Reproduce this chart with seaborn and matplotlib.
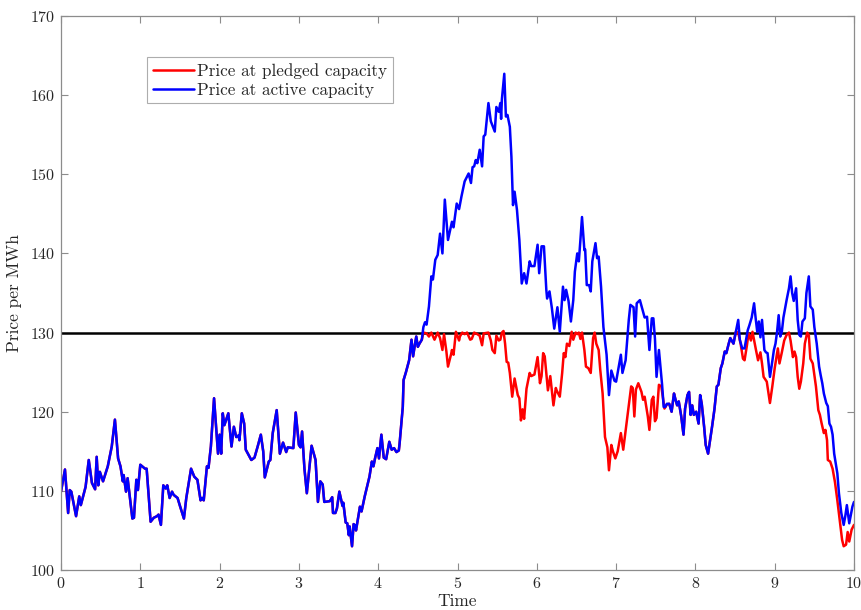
import numpy as np
import pandas as pd
import matplotlib
matplotlib.use("Agg")
import matplotlib.pyplot as plt
import seaborn as sns

# Simulated price path at active capacity
t_active = [
    0.00, 0.05, 0.09, 0.11, 0.13, 0.19, 0.23, 0.25, 0.31, 0.35, 0.39, 0.43, 0.45, 0.47, 0.49,
    0.53, 0.59, 0.64, 0.68, 0.72, 0.75, 0.78, 0.79, 0.82, 0.84, 0.90, 0.92, 0.95, 0.97, 1.00,
    1.06, 1.08, 1.13, 1.17, 1.21, 1.23, 1.26, 1.29, 1.32, 1.34, 1.37, 1.40, 1.42, 1.47, 1.50,
    1.55, 1.58, 1.64, 1.68, 1.72, 1.76, 1.78, 1.80, 1.84, 1.86, 1.89, 1.93, 1.98, 2.00, 2.02,
    2.04, 2.06, 2.11, 2.15, 2.18, 2.21, 2.24, 2.25, 2.28, 2.31, 2.33, 2.40, 2.44, 2.48, 2.52,
    2.55, 2.57, 2.62, 2.64, 2.67, 2.72, 2.76, 2.80, 2.84, 2.86, 2.93, 2.96, 3.00, 3.02, 3.04,
    3.07, 3.10, 3.16, 3.21, 3.24, 3.27, 3.30, 3.32, 3.39, 3.42, 3.43, 3.46, 3.48, 3.51, 3.55,
    3.56, 3.59, 3.61, 3.63, 3.64, 3.67, 3.69, 3.71, 3.72, 3.77, 3.79, 3.83, 3.89, 3.92, 3.94,
    3.96, 3.99, 4.01, 4.04, 4.07, 4.10, 4.14, 4.17, 4.20, 4.23, 4.26, 4.27, 4.31, 4.32, 4.35,
    4.39, 4.42, 4.44, 4.46, 4.48, 4.50, 4.52, 4.55, 4.57, 4.59, 4.61, 4.64, 4.67, 4.69, 4.72,
    4.75, 4.78, 4.81, 4.84, 4.88, 4.93, 4.95, 4.99, 5.02, 5.05, 5.09, 5.14, 5.17, 5.19, 5.21,
    5.23, 5.25, 5.28, 5.31, 5.33, 5.35, 5.39, 5.42, 5.47, 5.49, 5.52, 5.54, 5.55, 5.56, 5.59,
    5.61, 5.63, 5.66, 5.68, 5.70, 5.72, 5.75, 5.78, 5.81, 5.84, 5.87, 5.91, 5.93, 5.97, 6.01,
    6.03, 6.06, 6.09, 6.12, 6.13, 6.16, 6.19, 6.22, 6.26, 6.29, 6.33, 6.35, 6.37, 6.40, 6.43,
    6.46, 6.48, 6.51, 6.53, 6.55, 6.57, 6.60, 6.61, 6.63, 6.66, 6.68, 6.70, 6.74, 6.76, 6.78,
    6.81, 6.84, 6.88, 6.91, 6.94, 6.98, 7.00, 7.03, 7.06, 7.08, 7.12, 7.16, 7.18, 7.22, 7.24,
    7.26, 7.30, 7.33, 7.36, 7.39, 7.42, 7.45, 7.47, 7.49, 7.51, 7.54, 7.58, 7.60, 7.62, 7.64,
    7.67, 7.70, 7.73, 7.75, 7.77, 7.79, 7.82, 7.85, 7.87, 7.90, 7.92, 7.94, 7.96, 7.98, 8.01,
    8.04, 8.06, 8.08, 8.11, 8.13, 8.16, 8.19, 8.21, 8.24, 8.27, 8.29, 8.32, 8.34, 8.37, 8.39,
    8.42, 8.44, 8.48, 8.51, 8.54, 8.56, 8.59, 8.62, 8.66, 8.68, 8.71, 8.74, 8.76, 8.78, 8.80,
    8.82, 8.84, 8.87, 8.89, 8.91, 8.94, 8.96, 8.99, 9.01, 9.03, 9.05, 9.07, 9.09, 9.11, 9.15,
    9.18, 9.20, 9.22, 9.24, 9.27, 9.29, 9.31, 9.33, 9.35, 9.38, 9.40, 9.43, 9.45, 9.48, 9.50,
    9.53, 9.56, 9.58, 9.60, 9.62, 9.65, 9.67, 9.69, 9.71, 9.73, 9.75, 9.79, 9.81, 9.84, 9.87,
    9.89, 9.91, 9.94, 9.98, 10.00,
]
price_active = [
    109.9, 112.7, 107.2, 110.1, 109.9, 106.8, 109.3, 108.2, 110.5, 113.9, 111.0, 110.2, 114.3, 110.7, 112.4,
    111.2, 113.1, 115.6, 119.0, 114.1, 113.1, 111.2, 112.0, 109.9, 111.6, 106.5, 106.6, 111.4, 110.1, 113.3,
    112.8, 112.8, 106.1, 106.6, 106.8, 107.0, 105.7, 110.7, 110.3, 110.7, 109.1, 109.9, 109.5, 109.1, 108.1,
    106.5, 109.1, 112.8, 111.8, 111.4, 108.8, 109.1, 108.8, 113.1, 112.9, 115.6, 121.7, 114.7, 117.1, 114.7,
    119.8, 118.3, 119.8, 115.6, 118.1, 116.8, 117.0, 116.4, 119.8, 118.5, 115.2, 113.9, 114.2, 115.6, 117.1,
    115.0, 111.7, 113.7, 113.9, 117.3, 120.2, 114.7, 116.1, 114.9, 115.5, 115.4, 119.9, 115.8, 115.5, 117.5,
    112.8, 109.7, 115.7, 113.9, 108.6, 111.2, 110.8, 108.6, 108.7, 109.2, 107.2, 107.2, 107.8, 109.9, 108.1,
    108.5, 106.0, 105.9, 104.4, 105.5, 103.0, 105.8, 105.6, 105.0, 108.0, 107.4, 109.3, 111.8, 113.7, 113.1,
    114.1, 115.4, 114.1, 117.1, 114.2, 114.0, 116.2, 115.2, 115.4, 114.9, 115.1, 116.0, 120.6, 124.0, 125.0,
    126.5, 129.1, 127.0, 128.3, 129.5, 128.2, 128.6, 129.1, 130.7, 131.3, 131.0, 133.3, 137.1, 136.7, 139.2,
    139.8, 142.5, 140.0, 146.8, 141.7, 144.0, 143.3, 146.3, 145.6, 147.2, 149.1, 150.1, 148.9, 150.9, 151.0,
    151.8, 151.4, 153.1, 151.0, 154.8, 155.0, 159.0, 156.7, 155.4, 158.5, 157.9, 159.0, 157.0, 159.5, 162.7,
    157.3, 157.5, 156.0, 152.2, 146.1, 147.8, 145.5, 141.7, 136.2, 137.5, 136.2, 139.0, 138.4, 138.4, 141.1,
    137.5, 140.9, 140.9, 135.4, 134.3, 135.2, 133.1, 130.5, 133.2, 130.1, 135.8, 134.1, 135.4, 134.0, 131.4,
    134.1, 137.7, 140.0, 139.0, 141.7, 144.6, 140.4, 140.5, 136.0, 136.0, 135.2, 139.0, 141.3, 139.4, 139.6,
    135.8, 130.7, 127.2, 122.1, 125.2, 123.9, 123.8, 125.5, 127.2, 124.9, 126.5, 131.6, 133.5, 133.2, 129.5,
    133.7, 134.1, 133.0, 131.9, 132.0, 127.8, 131.8, 131.8, 129.2, 124.4, 127.8, 123.4, 120.6, 120.6, 121.0,
    121.0, 120.0, 122.3, 121.5, 120.8, 121.3, 119.5, 117.1, 120.4, 122.1, 122.5, 119.6, 120.8, 119.6, 120.0,
    118.5, 122.1, 121.0, 118.1, 115.8, 114.7, 116.7, 118.1, 120.3, 123.2, 123.4, 125.5, 126.1, 127.6, 127.4,
    128.6, 129.3, 128.6, 130.1, 131.6, 129.1, 128.0, 128.0, 130.3, 130.9, 131.9, 133.7, 131.8, 130.1, 131.4,
    129.4, 131.6, 127.8, 127.5, 127.4, 124.4, 125.7, 127.8, 128.6, 130.1, 132.2, 129.5, 130.1, 131.9, 134.1,
    135.6, 137.1, 135.0, 134.0, 135.6, 131.6, 129.7, 129.5, 131.4, 131.8, 135.0, 137.1, 133.3, 132.9, 130.7,
    128.6, 125.7, 124.6, 123.6, 122.3, 121.1, 120.7, 118.5, 118.1, 117.1, 114.7, 112.2, 109.7, 107.2, 105.7,
    106.8, 108.2, 105.9, 108.0, 108.6,
]

# Price at pledged capacity where it departs from the active-capacity path
t_pledged_a = [
    4.57, 4.61, 4.64, 4.67, 4.71, 4.75, 4.78, 4.81, 4.83, 4.86, 4.88, 4.92, 4.93, 4.95, 4.98,
    5.02, 5.03, 5.06, 5.09, 5.12, 5.16, 5.18, 5.21, 5.25, 5.28, 5.31, 5.33, 5.39, 5.42, 5.44,
    5.47, 5.49, 5.52, 5.54, 5.56, 5.58, 5.60, 5.62, 5.64, 5.66, 5.69, 5.72, 5.76, 5.78, 5.80,
    5.82, 5.84, 5.87, 5.91, 5.93, 5.97, 6.01, 6.04, 6.06, 6.08, 6.10, 6.14, 6.17, 6.21, 6.24,
    6.25, 6.29, 6.32, 6.34, 6.36, 6.38, 6.41, 6.44, 6.46, 6.49, 6.51, 6.53, 6.55, 6.57, 6.60,
    6.62, 6.65, 6.68, 6.71, 6.73, 6.75, 6.78, 6.80, 6.83, 6.86, 6.89, 6.91, 6.94, 6.96, 6.99,
    7.02, 7.06, 7.09, 7.13, 7.19, 7.21, 7.23, 7.25, 7.28, 7.32, 7.34, 7.36, 7.40, 7.42, 7.45,
    7.47, 7.49, 7.51, 7.54, 7.57, 7.61, 7.64, 7.67,
]
price_pledged_a = [
    130.0, 129.9, 129.5, 130.0, 129.1, 130.0, 129.3, 127.8, 129.8, 127.6, 125.7, 127.3, 127.8, 127.2, 130.1,
    129.0, 129.5, 130.0, 129.8, 130.0, 129.1, 129.2, 130.0, 129.8, 129.6, 128.4, 129.9, 130.0, 129.0, 127.8,
    127.4, 129.6, 129.0, 129.1, 130.0, 130.2, 128.6, 126.3, 126.2, 124.9, 121.9, 124.2, 122.1, 121.7, 118.9,
    120.3, 119.1, 122.9, 124.9, 124.5, 124.7, 126.9, 123.6, 124.5, 127.4, 127.0, 122.7, 124.5, 120.8, 123.0,
    122.7, 121.9, 124.9, 127.4, 126.9, 128.6, 128.3, 130.1, 129.1, 130.0, 129.8, 130.0, 129.2, 130.0, 127.8,
    125.7, 125.5, 124.9, 129.3, 130.0, 128.6, 127.8, 125.3, 122.3, 116.8, 115.5, 112.6, 115.8, 115.0, 114.1,
    115.0, 117.3, 115.2, 118.4, 123.2, 123.0, 119.4, 122.8, 123.6, 122.5, 121.5, 121.9, 119.4, 117.7, 121.5,
    121.9, 118.8, 119.2, 123.4, 123.2, 120.4, 120.9, 121.0,
]
t_pledged_b = [
    8.54, 8.57, 8.60, 8.62, 8.65, 8.67, 8.70, 8.72, 8.76, 8.79, 8.82, 8.84, 8.86, 8.90, 8.94,
    8.97, 9.00, 9.04, 9.06, 9.09, 9.12, 9.15, 9.18, 9.20, 9.23, 9.25, 9.27, 9.29, 9.31, 9.33,
    9.36, 9.38, 9.41, 9.43, 9.45, 9.48, 9.52, 9.55, 9.57, 9.59, 9.62, 9.64, 9.66, 9.67, 9.70,
    9.73, 9.76, 9.79, 9.82, 9.85, 9.87, 9.90, 9.92, 9.94, 9.97, 10.00,
]
price_pledged_b = [
    130.0, 128.6, 126.7, 126.5, 128.4, 129.9, 129.0, 130.1, 128.0, 126.5, 127.5, 126.1, 124.4, 123.8, 121.1,
    123.2, 125.5, 128.0, 126.1, 127.5, 129.0, 129.7, 130.0, 129.0, 126.9, 127.6, 126.9, 124.4, 122.9, 123.8,
    126.1, 128.6, 130.0, 129.7, 126.7, 126.1, 123.2, 120.2, 119.6, 118.6, 117.3, 117.7, 116.4, 113.9, 113.7,
    112.8, 111.1, 108.8, 106.3, 103.8, 103.0, 103.2, 104.8, 103.6, 105.1, 105.7,
]

cap_price = 130.0
x_ticks = list(range(0, 11))
y_ticks = list(range(100, 171, 10))

active = pd.DataFrame({"Time": t_active, "Price": price_active})

# The pledged-capacity path coincides with the active path below the cap
shared_1 = active[active["Time"] < 4.57]
shared_2 = active[(active["Time"] > 7.67) & (active["Time"] < 8.54)]
pledged = pd.concat([
    shared_1,
    pd.DataFrame({"Time": t_pledged_a, "Price": price_pledged_a}),
    shared_2,
    pd.DataFrame({"Time": t_pledged_b, "Price": price_pledged_b}),
], ignore_index=True)

sns.set_style("white")
plt.rcParams["font.family"] = ["cmr10", "DejaVu Serif"]
plt.rcParams["axes.formatter.use_mathtext"] = True
plt.rcParams["mathtext.fontset"] = "cm"

fig = plt.figure(figsize=(8.61, 6.10), dpi=100)
ax = fig.add_axes([61 / 861, 1 - 570 / 610, 793 / 861, 554 / 610])

sns.lineplot(data=pledged, x="Time", y="Price", color="#ff0000", linewidth=1.8,
             estimator=None, sort=False, ax=ax, label="Price at pledged capacity")
sns.lineplot(data=active, x="Time", y="Price", color="#0000ff", linewidth=1.8,
             estimator=None, sort=False, ax=ax, label="Price at active capacity")
ax.axhline(cap_price, color="black", linewidth=1.8, zorder=1)

ax.set_xlim(0, 10)
ax.set_ylim(100, 170)
ax.set_xticks(x_ticks)
ax.set_yticks(y_ticks)

spine_color = "#8c8c8c"
text_color = "#262626"
for s in ax.spines.values():
    s.set_visible(True)
    s.set_color(spine_color)
    s.set_linewidth(0.9)
ax.tick_params(direction="in", length=5, width=0.8, color=spine_color,
               labelcolor=text_color, labelsize=11.5,
               top=True, right=True, bottom=True, left=True, pad=4)

ax.set_xlabel("Time", fontsize=12.5, color=text_color, labelpad=2)
ax.set_ylabel("Price per MWh", fontsize=12.5, color=text_color, labelpad=6)

leg = ax.legend(loc="upper left", bbox_to_anchor=(0.108, 0.926), fontsize=12.3,
                frameon=True, fancybox=False, handlelength=2.4, handletextpad=0.2,
                borderpad=0.35, labelspacing=0.2, borderaxespad=0)
leg.get_frame().set_edgecolor("#999999")
leg.get_frame().set_linewidth(0.8)
for txt in leg.get_texts():
    txt.set_color(text_color)

fig.savefig("out.png", dpi=100, facecolor="white")
